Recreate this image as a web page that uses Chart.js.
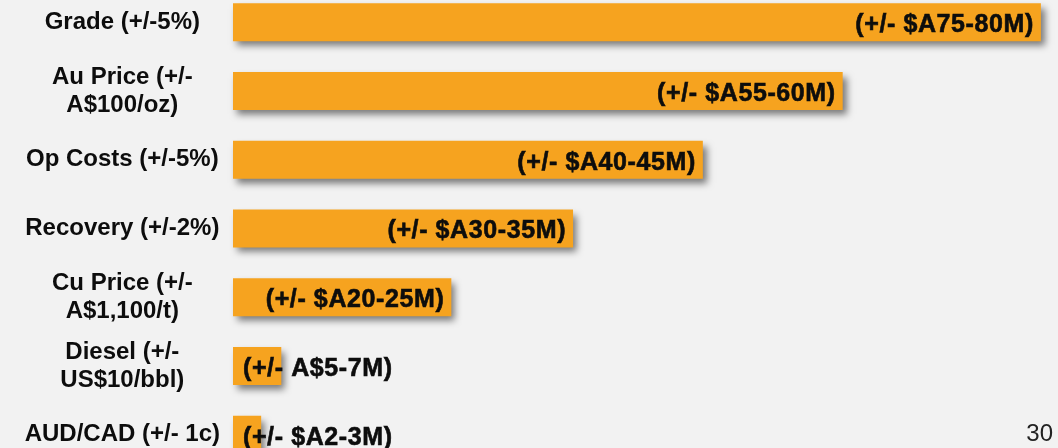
<!DOCTYPE html>
<html>
<head>
<meta charset="utf-8">
<script src="https://cdn.jsdelivr.net/npm/chart.js@4"></script>
<style>
  html, body { margin: 0; padding: 0; background: #f2f2f2; overflow: hidden; }
  body { width: 1058px; height: 448px; position: relative; }
  #wrap { position: absolute; left: 0; top: -12px; width: 1058px; height: 481px; }
  #pageNo { position: absolute; right: 5px; top: 419px; font: 24px "Liberation Sans", Arial, sans-serif; color: #222; }
</style>
</head>
<body>
<div id="wrap"><canvas id="tornado"></canvas></div>
<div id="pageNo">30</div>
<script>
var drivers = [
  'Grade (+/-5%)',
  ['Au Price (+/-', 'A$100/oz)'],
  'Op Costs (+/-5%)',
  'Recovery (+/-2%)',
  ['Cu Price (+/-', 'A$1,100/t)'],
  ['Diesel (+/-', 'US$10/bbl)'],
  'AUD/CAD (+/- 1c)'
];
// upper end of NPV swing, A$M
var impact = [80.3, 60.6, 46.7, 33.8, 21.7, 4.8, 2.8];
var impactLabels = [
  '(+/- $A75-80M)',
  '(+/- $A55-60M)',
  '(+/- $A40-45M)',
  '(+/- $A30-35M)',
  '(+/- $A20-25M)',
  '(+/- A$5-7M)',
  '(+/- $A2-3M)'
];
var xMax = 82;

var barShadow = {
  id: 'barShadow',
  beforeDatasetDraw: function(chart) {
    var ctx = chart.ctx;
    ctx.save();
    ctx.shadowColor = 'rgba(0, 0, 0, 0.5)';
    ctx.shadowBlur = 7;
    ctx.shadowOffsetX = 4;
    ctx.shadowOffsetY = 5;
  },
  afterDatasetDraw: function(chart) {
    chart.ctx.restore();
  }
};

var barLabels = {
  id: 'barLabels',
  afterDatasetsDraw: function(chart) {
    var ctx = chart.ctx;
    var meta = chart.getDatasetMeta(0);
    ctx.save();
    ctx.font = 'bold 25px "Liberation Sans", Arial, sans-serif';
    ctx.letterSpacing = '0.6px';
    ctx.fillStyle = '#0d0d0d';
    ctx.strokeStyle = '#0d0d0d';
    ctx.lineWidth = 0.6;
    ctx.textBaseline = 'middle';
    meta.data.forEach(function(bar, i) {
      var text = impactLabels[i];
      var w = ctx.measureText(text).width;
      var x, y = bar.y + 3;
      if (bar.x - bar.base > w + 20) {
        ctx.textAlign = 'right';
        x = bar.x - 7;
      } else {
        ctx.textAlign = 'left';
        x = bar.base + 10;
      }
      ctx.fillText(text, x, y);
      ctx.strokeText(text, x, y);
    });
    ctx.restore();
  }
};

var ctx = document.getElementById('tornado').getContext('2d');
new Chart(ctx, {
  type: 'bar',
  data: {
    labels: drivers,
    datasets: [{
      data: impact,
      backgroundColor: '#f6a31f',
      borderWidth: 0,
      categoryPercentage: 1,
      barPercentage: 0.553,
      clip: false
    }]
  },
  options: {
    indexAxis: 'y',
    responsive: true,
    maintainAspectRatio: false,
    animation: false,
    layout: { padding: 0 },
    plugins: {
      legend: { display: false },
      tooltip: { enabled: false }
    },
    scales: {
      x: {
        display: false,
        min: 0,
        max: xMax
      },
      y: {
        grid: { display: false, drawTicks: false },
        border: { display: false },
        ticks: {
          crossAlign: 'center',
          padding: 13,
          color: '#0d0d0d',
          font: { family: '"Liberation Sans", Arial, sans-serif', size: 24, weight: 'bold', lineHeight: 1.17 }
        },
        afterFit: function(axis) {
          axis.width = 233;
          axis.paddingTop = 0;
          axis.paddingBottom = 0;
        }
      }
    }
  },
  plugins: [barShadow, barLabels]
});
</script>
</body>
</html>
